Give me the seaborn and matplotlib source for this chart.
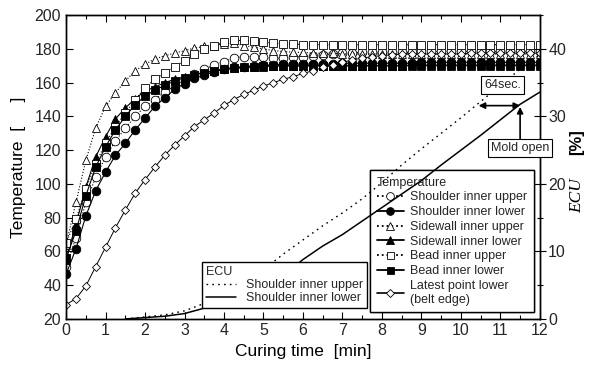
import matplotlib
matplotlib.use("Agg")
import matplotlib.pyplot as plt
import seaborn as sns
import numpy as np
from matplotlib.lines import Line2D
from matplotlib.ticker import MultipleLocator

sns.set_theme(style="white")
plt.rcParams['font.family'] = ['Liberation Sans', 'DejaVu Sans']

# ---------------- data ----------------
time = [0, 0.25, 0.5, 0.75, 1, 1.25, 1.5, 1.75, 2, 2.25, 2.5, 2.75, 3, 3.25, 3.5, 3.75,
        4, 4.25, 4.5, 4.75, 5, 5.25, 5.5, 5.75, 6, 6.25, 6.5, 6.75, 7, 7.25, 7.5, 7.75,
        8, 8.25, 8.5, 8.75, 9, 9.25, 9.5, 9.75, 10, 10.25, 10.5, 10.75, 11, 11.25, 11.5, 11.75, 12]

shoulder_upper = [51, 68, 89, 104, 116, 125.5, 133, 140, 146, 150, 154.5, 158, 161.5, 165, 168, 170.5,
                  172.5, 174.5, 175.5, 175.5, 175, 174.5, 174.5, 175, 175.5, 176, 176.5, 177, 177.5, 177.5,
                  178, 178, 178, 178, 178, 178, 178.5, 178.5, 178.5, 178.5, 178.5, 178.5, 178.5, 178.5,
                  178.5, 178.5, 178.5, 178.5, 178.5]
shoulder_lower = [46.5, 61.5, 81, 96, 107, 117, 124, 132, 139, 146, 151, 156, 159.5, 162.5, 164.5, 166.5,
                  168, 169, 169.5, 170, 170.5, 170.5, 171, 171, 171, 171, 171, 171, 171.5, 171.5, 171.5,
                  171.5, 171.5, 171.5, 171.5, 171.5, 172, 172, 172, 172, 172, 172, 172, 172, 172, 172,
                  172, 172, 172]
sidewall_upper = [64, 89, 114, 133, 146, 154, 161, 167, 171, 174, 176, 177.5, 179, 180.5, 181.5, 182,
                  183, 183.5, 182, 181, 180, 179, 178.5, 178, 178, 177.5, 177.5, 177.5, 177, 177, 177,
                  177, 177, 177, 177, 177, 177, 177, 177, 177, 177, 177, 177, 177, 177, 177, 177, 177, 177]
sidewall_lower = [55, 76, 98, 116, 128, 138.5, 145, 150.5, 155, 157.5, 160, 162, 163.5, 165, 166, 167,
                  168, 168.5, 169, 169.5, 169.5, 170, 170, 170, 170, 170, 170, 170, 170, 170, 170, 170,
                  170, 170, 170, 170, 170, 170, 170, 170, 170, 170, 170, 170, 170, 170, 170, 170, 170]
bead_upper = [65, 79, 97, 112, 124, 134, 142, 150, 157, 162, 166, 169.5, 173, 177, 180, 182, 184, 185,
              185, 184.5, 184, 183.5, 183, 183, 182.5, 182.5, 182.5, 182.5, 182.5, 182.5, 182.5, 182.5,
              182.5, 182.5, 182.5, 182.5, 182.5, 182.5, 182.5, 182.5, 182.5, 182.5, 182.5, 182.5, 182.5,
              182.5, 182.5, 182.5, 182.5]
bead_lower = [56, 72, 93, 110, 122, 132, 140, 147, 152, 155.5, 158.5, 161, 163, 164.5, 166, 167, 168,
              168.5, 169, 169.5, 170, 170, 170, 170, 170, 170, 170, 170, 170, 170, 170, 170, 170, 170,
              170, 170.5, 170.5, 170.5, 170.5, 170.5, 170.5, 170.5, 170.5, 170.5, 170.5, 170.5, 170.5,
              170.5, 170.5]
latest_point = [28.5, 32, 39.5, 51, 62.5, 74, 84.5, 94.5, 102.5, 110, 117, 123, 128.5, 134, 138, 142,
                146.5, 150, 153, 155.5, 158, 160, 162, 163.5, 165.5, 167, 169, 170.5, 172, 173.5, 174.5,
                175.5, 176, 176.5, 177, 177, 177, 177, 177, 177, 177, 177.5, 177.5, 177.5, 177.5, 177.5,
                177.5, 177.5, 177.5]

ecu_time = [1.5, 2, 2.5, 3, 3.5, 4, 4.5, 5, 5.5, 6, 6.5, 7, 7.5, 8, 8.5, 9, 9.5, 10, 10.5, 11, 11.5, 12]
ecu_upper = [0, 0.3, 0.6, 1.2, 2.3, 3.6, 5.3, 7.3, 9.6, 11.7, 13.8, 15.7, 17.8, 20.2, 22.8, 25.2,
             27.5, 29.8, 32.2, 34.6, 37, 39.2]
ecu_lower = [0, 0.2, 0.4, 0.8, 1.6, 2.6, 3.8, 5.0, 6.5, 8.8, 10.8, 12.5, 14.5, 16.5, 18.5, 20.5,
             22.8, 25, 27.2, 29.5, 31.8, 33.6]

temp_labels = ["Shoulder inner upper", "Shoulder inner lower", "Sidewall inner upper",
               "Sidewall inner lower", "Bead inner upper", "Bead inner lower",
               "Latest point lower\n(belt edge)"]
ecu_labels = ["Shoulder inner upper", "Shoulder inner lower"]

# ---------------- figure ----------------
fig = plt.figure(figsize=(5.9, 3.7), dpi=100)
ax = fig.add_axes([0.112, 0.138, 0.803, 0.821])
ax2 = ax.twinx()

series = [shoulder_upper, shoulder_lower, sidewall_upper, sidewall_lower,
          bead_upper, bead_lower, latest_point]
styles = [
    dict(marker='o', mfc='white', ls=':', ms=6.2, lw=0.8),
    dict(marker='o', mfc='black', ls='-', ms=6.2, lw=0.8),
    dict(marker='^', mfc='white', ls=':', ms=6.2, lw=0.8),
    dict(marker='^', mfc='black', ls='-', ms=6.2, lw=0.8),
    dict(marker='s', mfc='white', ls=':', ms=5.6, lw=0.8),
    dict(marker='s', mfc='black', ls='-', ms=5.6, lw=0.8),
    dict(marker='D', mfc='white', ls='-', ms=4.0, lw=0.7),
]
handles = []
for vals, st, lab in zip(series, styles, temp_labels):
    sns.lineplot(x=time, y=vals, ax=ax, color='black', marker=st['marker'],
                 markerfacecolor=st['mfc'], markeredgecolor='black', markeredgewidth=0.6,
                 markersize=st['ms'], linestyle=st['ls'], linewidth=st['lw'], legend=False)
    handles.append(Line2D([], [], color='black', marker=st['marker'], markerfacecolor=st['mfc'],
                          markeredgecolor='black', markeredgewidth=0.6, markersize=st['ms'] * 0.9,
                          linestyle=st['ls'], linewidth=st['lw'] + 0.5))

sns.lineplot(x=ecu_time, y=ecu_upper, ax=ax2, color='black', linestyle=(0, (1.2, 3)),
             linewidth=1.0, legend=False)
sns.lineplot(x=ecu_time, y=ecu_lower, ax=ax2, color='black', linestyle='-',
             linewidth=1.1, legend=False)
ecu_handles = [Line2D([], [], color='black', ls=(0, (1.2, 3)), lw=1.0),
               Line2D([], [], color='black', ls='-', lw=1.1)]

ax.set_xlim(0, 12)
ax.set_ylim(20, 200)
ax2.set_ylim(0, 45)
ax.xaxis.set_major_locator(MultipleLocator(1))
ax.xaxis.set_minor_locator(MultipleLocator(0.5))
ax.yaxis.set_major_locator(MultipleLocator(20))
ax2.yaxis.set_minor_locator(MultipleLocator(5))
ax2.set_yticks([0, 10, 20, 30, 40])

ax.tick_params(axis='x', which='both', direction='in', top=True, bottom=True,
               labelsize=11.5, pad=3, color='black')
ax.tick_params(axis='x', which='major', length=5, width=0.8)
ax.tick_params(axis='x', which='minor', length=3, width=0.8)
ax.tick_params(axis='y', which='major', direction='in', length=5, width=0.8,
               labelsize=11.5, left=True, right=False, color='black')
ax2.tick_params(axis='y', which='major', direction='inout', length=8, width=0.8,
                labelsize=11.5, color='black', pad=2)
ax2.tick_params(axis='y', which='minor', direction='inout', length=5, width=0.8, color='black')

for a in (ax, ax2):
    for sp in a.spines.values():
        sp.set_color('black')
        sp.set_linewidth(1.0)

ax.set_xlabel("Curing time  [min]", fontsize=12.5, labelpad=4, color='black')
ax.set_ylabel("Temperature  [     ]", fontsize=12.5, labelpad=6, color='black')

fig.text(0.978, 0.47, "ECU", rotation=90, fontsize=12.5, family='Liberation Serif',
         style='italic', ha='center', va='center', color='black')
fig.text(0.978, 0.615, "[%]", rotation=90, fontsize=12, fontweight='bold',
         ha='center', va='center', color='black')

leg1 = ax.legend(handles, temp_labels, title="Temperature", loc='lower right',
                 bbox_to_anchor=(0.987, 0.023), borderaxespad=0, fontsize=9, title_fontsize=9,
                 frameon=True, fancybox=False, edgecolor='black', framealpha=1,
                 handlelength=2.2, handletextpad=0.5, labelspacing=0.22, borderpad=0.5)
leg1._legend_box.align = "left"
leg1.get_frame().set_linewidth(1.0)
ax.add_artist(leg1)

leg2 = ax2.legend(ecu_handles, ecu_labels, title="ECU", loc='lower right',
                  bbox_to_anchor=(0.635, 0.036), borderaxespad=0, fontsize=9, title_fontsize=9,
                  frameon=True, fancybox=False, edgecolor='black', framealpha=1,
                  handlelength=2.4, handletextpad=0.8, labelspacing=0.1, borderpad=0.3)
leg2._legend_box.align = "left"
leg2.get_frame().set_linewidth(1.0)

# annotations
ax2.annotate("", xy=(10.45, 31.6), xytext=(11.5, 31.6),
             arrowprops=dict(arrowstyle='<|-|>', color='black', lw=1.2,
                             mutation_scale=9, shrinkA=0, shrinkB=0))
ax2.text(11.05, 34.6, "64sec.", fontsize=9, ha='center', va='center',
         bbox=dict(boxstyle='square,pad=0.25', fc='white', ec='black', lw=0.8))
ax2.annotate("", xy=(11.5, 31.4), xytext=(11.5, 26.6),
             arrowprops=dict(arrowstyle='-|>', color='black', lw=1.2,
                             mutation_scale=9, shrinkA=0, shrinkB=0))
ax2.text(11.5, 25.3, "Mold open", fontsize=9, ha='center', va='center', clip_on=False,
         bbox=dict(boxstyle='square,pad=0.25', fc='white', ec='black', lw=0.8))

fig.savefig("out.png", dpi=100, facecolor='white')
